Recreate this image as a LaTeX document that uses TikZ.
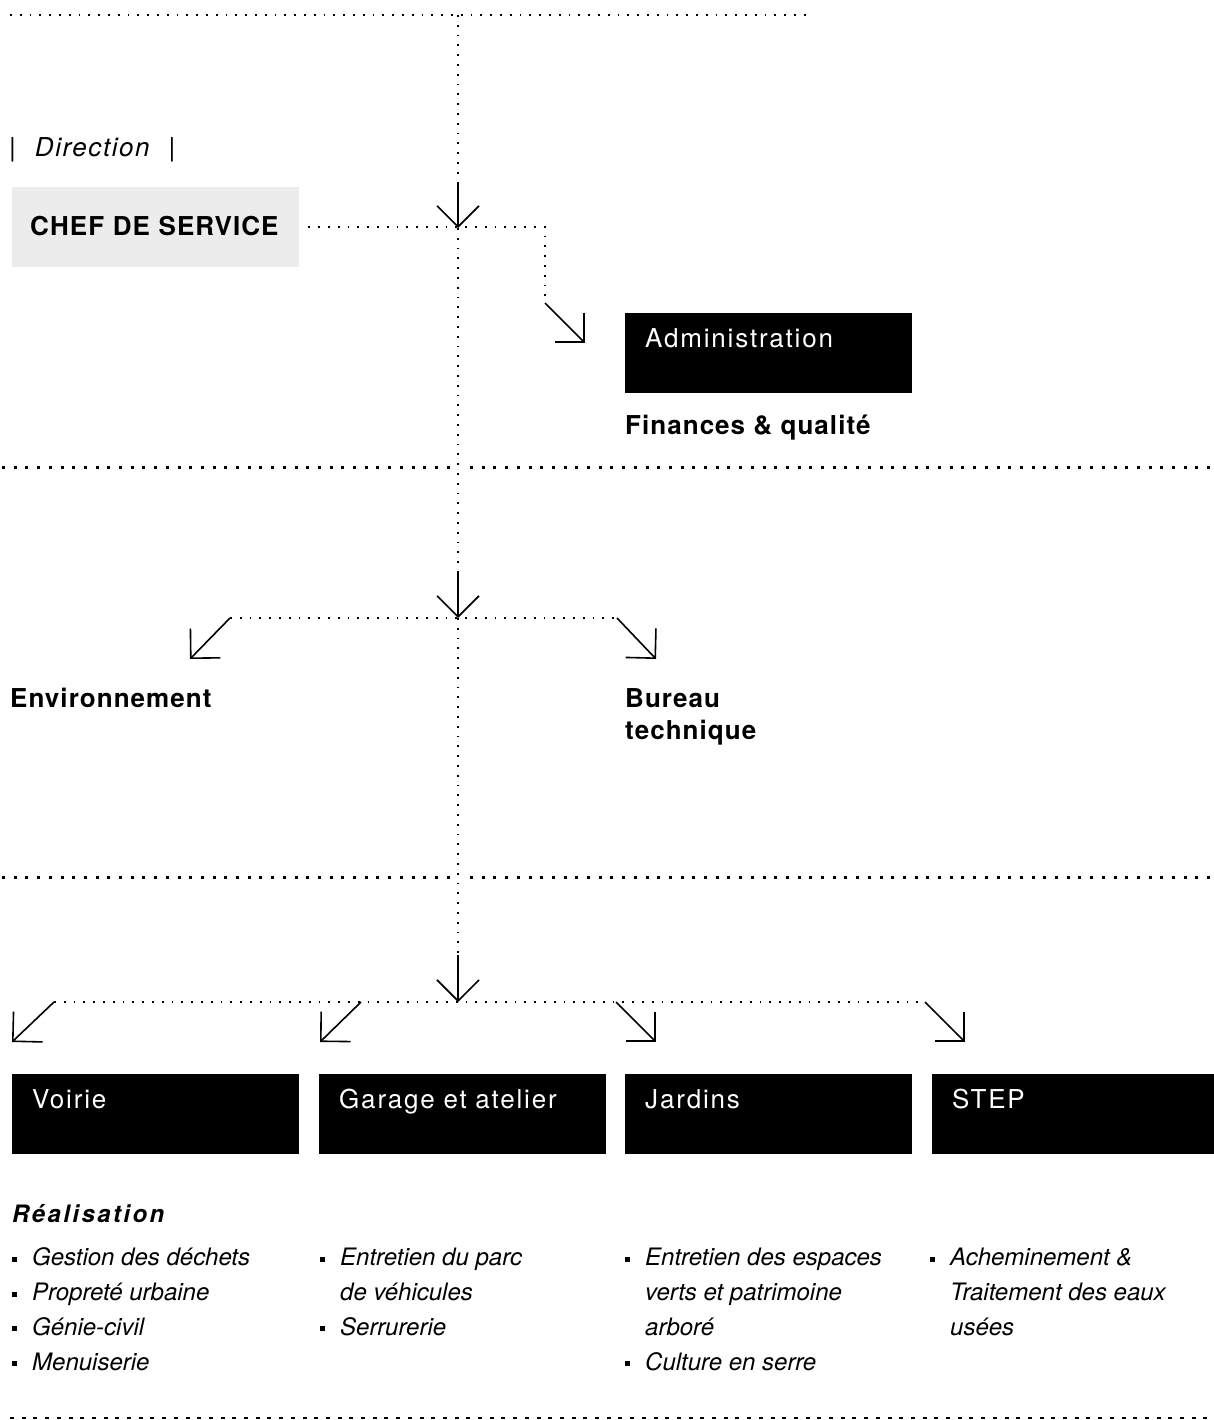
\documentclass[tikz,border=0pt]{standalone}
\usepackage{fontspec}
\setmainfont{TeX Gyre Heros}
\usetikzlibrary{arrows.meta}
\definecolor{chefgray}{RGB}{236,236,236}
\newcommand\boxtext{\fontsize{26}{30}\selectfont\addfontfeatures{LetterSpace=7}}
\newcommand\headtext{\fontsize{26}{32}\selectfont\bfseries\addfontfeatures{LetterSpace=4}}
\newcommand\itemtext{\fontsize{24}{34.7}\selectfont\itshape}
\newcommand\listbul{\rule[4pt]{5pt}{5pt}\hspace{15pt}}
\newcommand\listind{\hspace{20pt}}
\tikzset{trail/.style={line width=1.8pt,dash pattern=on 1.8pt off 8pt},
         trailarrow/.style={line width=1.6pt,-{Straight Barb[length=21pt,width=42pt]}},
         divider/.style={line width=3pt,dash pattern=on 3pt off 8.7pt},
         closing/.style={line width=2pt,dash pattern=on 4pt off 7.7pt},
         unitbox/.style={fill=black,text=white,anchor=north west,inner xsep=20pt,inner ysep=0pt,
                         text width=247pt,text height=34pt,text depth=46pt,align=left,font=\boxtext},
         chefbox/.style={fill=chefgray,anchor=north west,inner xsep=18pt,inner ysep=0pt,
                         text width=251pt,text height=48pt,text depth=32pt,align=left,font=\headtext},
         heading/.style={anchor=base west,inner sep=0pt,align=left,font=\headtext},
         itemcol/.style={anchor=base west,inner sep=0pt,align=left,font=\itemtext}}

\begin{document}
\begin{tikzpicture}[x=1pt,y=-1pt]
  \useasboundingbox (0,0) rectangle (1214,1420);
  \draw[trail] (10,15) -- (806,15);
  \draw[divider] (2,467) -- (450,467);
  \draw[divider] (470,467) -- (1214,467);
  \draw[divider] (2,877) -- (450,877);
  \draw[divider] (470,877) -- (1214,877);
  \draw[closing] (10,1418) -- (1214,1418);

  \node[anchor=base west,inner sep=0pt,font=\fontsize{26}{30}\selectfont] (dir) at (9,157)
    {|\hspace{19pt}{\itshape\addfontfeatures{LetterSpace=6}Direction}\hspace{19pt}|};
  \node[chefbox] (chef) at (12,187) {CHEF DE SERVICE};
  \node[unitbox] (admin) at (625,313) {Administration};
  \node[heading] (fin) at (625,434) {Finances \& qualité};
  \node[heading] (env) at (10,707) {Environnement};
  \node[heading] (bureau) at (625,739) {Bureau\\technique};
  \node[unitbox] (voirie) at (12,1074) {Voirie};
  \node[unitbox] (garage) at (319,1074) {Garage et atelier};
  \node[unitbox] (jardins) at (625,1074) {Jardins};
  \node[unitbox] (stepunit) at (932,1074) {STEP};

  \coordinate (top) at (458,15);
  \coordinate (s1) at (458,183);
  \coordinate (j1) at (458,228);
  \coordinate (s2) at (458,573);
  \coordinate (j2) at (458,618);
  \coordinate (s3) at (458,955);
  \coordinate (j3) at (458,1002);
  \draw[trail] (top) -- (s1);
  \draw[trailarrow] (s1) -- (j1);
  \draw[trail] (j1) -- (s2);
  \draw[trailarrow] (s2) -- (j2);
  \draw[trail] (j2) -- (s3);
  \draw[trailarrow] (s3) -- (j3);

  \coordinate (adm-a) at (545,297);
  \coordinate (adm-b) at (545,303);
  \coordinate (adm-c) at (585,343);
  \draw[trail,shorten <=9pt] (chef.east) -| (adm-a);
  \draw[trailarrow] (adm-b) -- (adm-c);

  \coordinate (env-a) at (230,618);
  \coordinate (env-b) at (190,659);
  \coordinate (bur-a) at (617,618);
  \coordinate (bur-b) at (656,659);
  \draw[trail] (env-a) -- (bur-a);
  \draw[trailarrow] (env-a) -- (env-b);
  \draw[trailarrow] (bur-a) -- (bur-b);

  \coordinate (voi-a) at (54,1002);
  \coordinate (voi-b) at (12,1042);
  \coordinate (gar-a) at (361,1002);
  \coordinate (gar-b) at (320,1042);
  \coordinate (jar-a) at (616,1002);
  \coordinate (jar-b) at (656,1042);
  \coordinate (stp-a) at (925,1002);
  \coordinate (stp-b) at (965,1042);
  \draw[trail] (voi-a) -- (stp-a);
  \draw[trailarrow] (voi-a) -- (voi-b);
  \draw[trailarrow] (gar-a) -- (gar-b);
  \draw[trailarrow] (jar-a) -- (jar-b);
  \draw[trailarrow] (stp-a) -- (stp-b);

  \node[anchor=base west,inner sep=0pt,font=\fontsize{24}{30}\selectfont\bfseries\itshape\addfontfeatures{LetterSpace=10}]
    (realis) at (12,1222) {Réalisation};
  \node[itemcol] (col1) at (12,1370)
    {\listbul Gestion des déchets\\ \listbul Propreté urbaine\\ \listbul Génie-civil\\ \listbul Menuiserie};
  \node[itemcol] (col2) at (320,1335)
    {\listbul Entretien du parc\\ \listind de véhicules\\ \listbul Serrurerie};
  \node[itemcol] (col3) at (625,1370)
    {\listbul Entretien des espaces\\ \listind verts et patrimoine\\ \listind arboré\\ \listbul Culture en serre};
  \node[itemcol] (col4) at (930,1335)
    {\listbul Acheminement \&\\ \listind Traitement des eaux\\ \listind usées};
\end{tikzpicture}
\end{document}
